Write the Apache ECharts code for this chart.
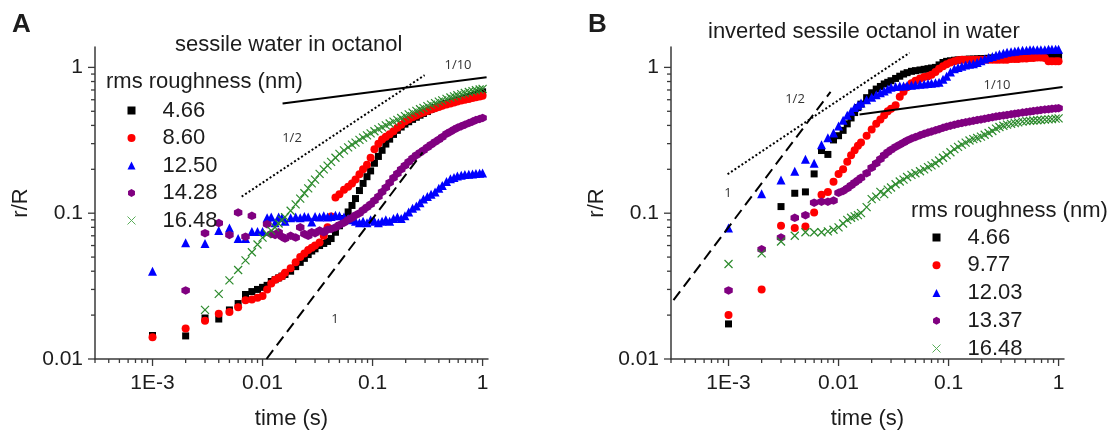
<!DOCTYPE html>
<html>
<head>
<meta charset="utf-8">
<script src="https://cdn.jsdelivr.net/npm/echarts/dist/echarts.min.js"></script>
<style>
html, body { margin: 0; padding: 0; background: #ffffff; }
#chart { width: 1114px; height: 435px; }
</style>
</head>
<body>
<div id="chart"></div>
<script>
// ---- time samples (s), shared by every curve ----
const timeGrid = [
  0.001, 0.002, 0.003, 0.004, 0.005, 0.006, 0.007, 0.008, 0.009, 0.010,
  0.011, 0.012, 0.013, 0.014, 0.015, 0.016, 0.018, 0.020, 0.022, 0.024,
  0.026, 0.028, 0.030, 0.033, 0.036, 0.039, 0.042, 0.046, 0.050, 0.055,
  0.060, 0.065, 0.070, 0.076, 0.082, 0.089, 0.096, 0.104, 0.113, 0.122,
  0.132, 0.143, 0.155, 0.168, 0.182, 0.197, 0.213, 0.231, 0.250, 0.270,
  0.290, 0.315, 0.340, 0.370, 0.400, 0.430, 0.470, 0.510, 0.550, 0.590,
  0.640, 0.690, 0.750, 0.810, 0.870, 0.940, 1.000
];

// ---- panel A: sessile water in octanol, r/R ----
const namesA = ['4.66', '8.60', '12.50', '14.28', '16.48'];
const a466 = [
  0.0145, 0.0144, 0.0191, 0.0188, 0.0217, 0.0240, 0.0277, 0.0290, 0.0300, 0.0310,
  0.032, 0.034, 0.035, 0.036, 0.037, 0.038, 0.040, 0.043, 0.046, 0.049,
  0.052, 0.055, 0.057, 0.060, 0.062, 0.064, 0.067, 0.074, 0.082, 0.092,
  0.102, 0.113, 0.126, 0.143, 0.160, 0.178, 0.195, 0.220, 0.245, 0.270,
  0.298, 0.322, 0.347, 0.370, 0.390, 0.408, 0.424, 0.440, 0.455, 0.470,
  0.483, 0.498, 0.515, 0.530, 0.543, 0.555, 0.567, 0.578, 0.588, 0.597,
  0.607, 0.618, 0.630, 0.642, 0.655, 0.668, 0.680
];
const a860 = [
  0.0141, 0.0162, 0.0183, 0.0204, 0.0210, 0.0226, 0.0253, 0.0256, 0.0263, 0.0270,
  0.030, 0.033, 0.035, 0.036, 0.037, 0.039, 0.042, 0.046, 0.050, 0.053,
  0.056, 0.058, 0.060, 0.063, 0.070, 0.080, 0.095, 0.128, 0.135, 0.145,
  0.152, 0.160, 0.170, 0.185, 0.200, 0.215, 0.240, 0.275, 0.300, 0.320,
  0.335, 0.348, 0.365, 0.385, 0.405, 0.425, 0.440, 0.455, 0.468, 0.480,
  0.490, 0.503, 0.515, 0.525, 0.535, 0.545, 0.556, 0.566, 0.575, 0.583,
  0.592, 0.600, 0.608, 0.616, 0.624, 0.632, 0.640
];
const a1250 = [
  0.040, 0.0628, 0.062, 0.076, 0.079, 0.067, 0.067, 0.075, 0.075, 0.075,
  0.093, 0.094, 0.086, 0.094, 0.093, 0.088, 0.093, 0.094, 0.093, 0.095,
  0.094, 0.087, 0.095, 0.094, 0.096, 0.094, 0.095, 0.097, 0.096, 0.094,
  0.092, 0.090, 0.088, 0.086, 0.088, 0.086, 0.090, 0.088, 0.086, 0.088,
  0.090, 0.088, 0.092, 0.094, 0.092, 0.096, 0.102, 0.108, 0.112, 0.118,
  0.125, 0.130, 0.135, 0.140, 0.148, 0.155, 0.165, 0.172, 0.176, 0.180,
  0.182, 0.184, 0.185, 0.186, 0.187, 0.188, 0.189
];
const a1428 = [
  null, 0.0295, 0.073, 0.0855, 0.071, 0.101, 0.069, 0.096, null, null,
  0.084, 0.072, 0.071, 0.074, 0.069, 0.067, 0.070, 0.068, 0.080, 0.072,
  0.070, 0.074, 0.073, 0.076, 0.074, 0.077, 0.078, 0.080, 0.083, 0.086,
  0.090, 0.093, 0.097, 0.100, 0.105, 0.110, 0.115, 0.122, 0.130, 0.140,
  0.150, 0.162, 0.175, 0.187, 0.200, 0.212, 0.225, 0.238, 0.250, 0.260,
  0.270, 0.283, 0.295, 0.308, 0.320, 0.333, 0.350, 0.362, 0.375, 0.385,
  0.395, 0.405, 0.415, 0.425, 0.435, 0.443, 0.450
];
const a1648 = [
  null, null, 0.0217, 0.028, 0.0346, 0.0408, 0.0475, 0.054, 0.061, 0.068,
  0.072, 0.076, 0.080, 0.085, 0.090, 0.094, 0.104, 0.115, 0.126, 0.137,
  0.148, 0.160, 0.170, 0.186, 0.200, 0.212, 0.225, 0.240, 0.255, 0.270,
  0.283, 0.295, 0.305, 0.318, 0.330, 0.342, 0.353, 0.365, 0.377, 0.388,
  0.400, 0.412, 0.425, 0.437, 0.450, 0.463, 0.476, 0.490, 0.503, 0.516,
  0.528, 0.542, 0.555, 0.569, 0.582, 0.594, 0.608, 0.622, 0.633, 0.644,
  0.656, 0.667, 0.678, 0.688, 0.697, 0.705, 0.712
];

// ---- panel B: inverted sessile octanol in water, r/R ----
const namesB = ['4.66', '9.77', '12.03', '13.37', '16.48'];
const b466 = [
  0.0174, null, 0.111, 0.137, 0.140, 0.186, 0.269, 0.253, 0.318, 0.340,
  0.370, 0.410, 0.450, 0.490, 0.530, 0.560, 0.620, 0.670, 0.710, 0.740,
  0.770, 0.790, 0.810, 0.840, 0.870, 0.900, 0.920, 0.940, 0.950, 0.960,
  0.970, 0.980, 0.990, 1.000, 1.040, 1.080, 1.100, 1.110, 1.120, 1.125,
  1.130, 1.135, 1.140, 1.140, 1.145, 1.150, 1.150, 1.155, 1.160, 1.160,
  1.165, 1.165, 1.170, 1.170, 1.175, 1.175, 1.180, 1.180, 1.185, 1.185,
  1.185, 1.190, 1.190, 1.195, 1.195, 1.200, 1.200
];
const b977 = [
  0.020, 0.030, 0.082, 0.079, 0.081, 0.101, 0.134, 0.140, 0.164, 0.186,
  0.200, 0.225, 0.250, 0.270, 0.290, 0.305, 0.340, 0.375, 0.410, 0.440,
  0.470, 0.500, 0.520, 0.550, 0.630, 0.680, 0.730, 0.780, 0.810, 0.840,
  0.860, 0.870, 0.890, 0.930, 0.980, 1.020, 1.050, 1.080, 1.100, 1.120,
  1.130, 1.130, 1.130, 1.130, 1.130, 1.130, 1.130, 1.130, 1.130, 1.130,
  1.130, 1.130, 1.130, 1.140, 1.140, 1.140, 1.150, 1.150, 1.160, 1.160,
  1.170, 1.170, 1.160, 1.100, 1.100, 1.100, 1.100
];
const b1203 = [
  0.079, 0.136, 0.169, 0.194, 0.234, 0.220, 0.295, 0.329, 0.355, 0.396,
  0.434, 0.470, 0.500, 0.530, 0.550, 0.570, 0.600, 0.625, 0.650, 0.670,
  0.690, 0.710, 0.730, 0.740, 0.745, 0.745, 0.750, 0.755, 0.760, 0.765,
  0.770, 0.775, 0.780, 0.785, 0.790, 0.830, 0.870, 0.930, 0.980, 1.000,
  1.020, 1.040, 1.050, 1.060, 1.080, 1.110, 1.140, 1.170, 1.190, 1.210,
  1.230, 1.250, 1.270, 1.280, 1.290, 1.300, 1.310, 1.310, 1.320, 1.320,
  1.320, 1.320, 1.320, 1.330, 1.330, 1.330, 1.330
];
const b1337 = [
  0.0295, 0.0565, 0.068, 0.093, 0.097, 0.118, 0.120, 0.120, 0.122, 0.138,
  0.142, 0.148, 0.155, 0.162, 0.168, 0.175, 0.188, 0.205, 0.220, 0.235,
  0.250, 0.262, 0.272, 0.285, 0.295, 0.305, 0.315, 0.325, 0.333, 0.342,
  0.350, 0.357, 0.363, 0.370, 0.377, 0.385, 0.392, 0.398, 0.405, 0.410,
  0.415, 0.420, 0.425, 0.430, 0.435, 0.440, 0.445, 0.450, 0.455, 0.460,
  0.464, 0.468, 0.472, 0.477, 0.481, 0.485, 0.490, 0.494, 0.498, 0.502,
  0.506, 0.510, 0.514, 0.517, 0.520, 0.523, 0.525
];
const b1648 = [
  0.0448, 0.053, 0.064, 0.070, 0.074, 0.074, 0.074, 0.075, 0.077, 0.080,
  0.085, 0.090, 0.093, 0.095, 0.097, 0.100, 0.110, 0.125, 0.130, 0.140,
  0.135, 0.145, 0.150, 0.158, 0.165, 0.170, 0.177, 0.183, 0.188, 0.194,
  0.200, 0.207, 0.213, 0.220, 0.230, 0.240, 0.250, 0.262, 0.275, 0.285,
  0.295, 0.305, 0.315, 0.322, 0.328, 0.335, 0.345, 0.355, 0.366, 0.380,
  0.390, 0.398, 0.405, 0.410, 0.415, 0.420, 0.425, 0.428, 0.430, 0.432,
  0.434, 0.436, 0.438, 0.440, 0.442, 0.445, 0.447
];

// ---- power-law guide lines: [t, r] end points ----
const guideA10 = [[0.0152, 0.565], [1.087, 0.857]];   // slope 1/10
const guideA2  = [[0.00646, 0.130], [0.297, 0.884]];  // slope 1/2
const guideA1  = [[0.01086, 0.0100], [0.285, 0.261]]; // slope 1
const guideB10 = [[0.0155, 0.476], [1.087, 0.734]];
const guideB2  = [[0.00098, 0.185], [0.0442, 1.26]];
const guideB1  = [[0.000316, 0.0253], [0.00846, 0.68]];

// ---- axes ----
const xRange = [3e-4, 1.12];
const yRange = [0.01, 1.38];
const xMajorTicks = [0.001, 0.01, 0.1, 1];
const xTickLabels = ['1E-3', '0.01', '0.1', '1'];
const yMajorTicks = [0.01, 0.1, 1];
const yTickLabels = ['0.01', '0.1', '1'];
const xMinorTicks = [
  3e-4, 4e-4, 5e-4, 6e-4, 7e-4, 8e-4, 9e-4,
  0.002, 0.003, 0.004, 0.005, 0.006, 0.007, 0.008, 0.009,
  0.02, 0.03, 0.04, 0.05, 0.06, 0.07, 0.08, 0.09,
  0.2, 0.3, 0.4, 0.5, 0.6, 0.7, 0.8, 0.9
];
const yMinorTicks = [
  0.02, 0.03, 0.04, 0.05, 0.06, 0.07, 0.08, 0.09,
  0.2, 0.3, 0.4, 0.5, 0.6, 0.7, 0.8, 0.9
];

const FONT = '"Liberation Sans", Arial, sans-serif';
const SMALL = '"Open Sans", "DejaVu Sans", sans-serif';
const AXIS_COLOR = '#3a3a3a';
const TEXT_COLOR = '#1c1c1c';
const HEX = 'path://M5,0 L9.33,2.5 L9.33,7.5 L5,10 L0.67,7.5 L0.67,2.5 Z';
const CROSS = 'path://M0,0 L10,10 M10,0 L0,10';
const GREEN = '#2c8a2c';
const GREEN_KEY = '#5aae5a';

const markerStyles = [
  { symbol: 'rect', symbolSize: 7, itemStyle: { color: '#000000', opacity: 1 } },
  { symbol: 'circle', symbolSize: 8, itemStyle: { color: '#ff0000', opacity: 1 } },
  { symbol: 'triangle', symbolSize: 9, itemStyle: { color: '#0000ff', opacity: 1 } },
  { symbol: HEX, symbolSize: 8.5, itemStyle: { color: '#800080', opacity: 1 } },
  { symbol: CROSS, symbolSize: 8, itemStyle: { color: 'rgba(0,0,0,0)', borderColor: GREEN, borderWidth: 1.2, opacity: 1 } }
];

function pairs(values) {
  const out = [];
  timeGrid.forEach((t, i) => { if (values[i] != null) out.push([t, values[i]]); });
  return out;
}

function labelFor(ticks, labels) {
  return function (v) {
    for (let i = 0; i < ticks.length; i++) {
      if (Math.abs(Math.log10(v) - Math.log10(ticks[i])) < 1e-6) return labels[i];
    }
    return '';
  };
}

function makeAxes(gridIndex) {
  const x = {
    type: 'log', logBase: 10, gridIndex: gridIndex,
    min: xRange[0], max: xRange[1],
    name: 'time (s)', nameLocation: 'middle', nameGap: 49,
    nameTextStyle: { fontFamily: FONT, fontSize: 22, color: TEXT_COLOR },
    axisLine: { onZero: false, lineStyle: { color: AXIS_COLOR, width: 1.5 } },
    axisTick: { show: false }, minorTick: { show: false },
    splitLine: { show: false },
    axisLabel: { interval: 0, margin: 14, fontFamily: FONT, fontSize: 21, color: TEXT_COLOR,
                 formatter: labelFor(xMajorTicks, xTickLabels) }
  };
  const y = {
    type: 'log', logBase: 10, gridIndex: gridIndex,
    min: yRange[0], max: yRange[1],
    name: 'r/R', nameLocation: 'middle', nameGap: 63,
    nameTextStyle: { fontFamily: FONT, fontSize: 22, color: TEXT_COLOR },
    axisLine: { onZero: false, lineStyle: { color: AXIS_COLOR, width: 1.5 } },
    axisTick: { show: false }, minorTick: { show: false },
    splitLine: { show: false },
    axisLabel: { interval: 0, margin: 12, fontFamily: FONT, fontSize: 21, color: TEXT_COLOR,
                 formatter: labelFor(yMajorTicks, yTickLabels) }
  };
  return [x, y];
}

function scatterSeries(gridIndex, names, valueSets) {
  return valueSets.map((vals, k) => Object.assign({
    type: 'scatter', name: names[k],
    xAxisIndex: gridIndex, yAxisIndex: gridIndex,
    data: pairs(vals), z: 2 + k * 0.1
  }, markerStyles[k]));
}

function guideSeries(gridIndex, data, type) {
  const ls = { color: '#000000', width: 2, type: 'solid' };
  if (type === 'dashed') { ls.type = [11, 6]; }
  if (type === 'dotted') { ls.type = [2, 2.2]; }
  return {
    type: 'line', xAxisIndex: gridIndex, yAxisIndex: gridIndex,
    data: data, showSymbol: false, symbol: 'none', silent: true, z: 4,
    lineStyle: ls
  };
}

function legendData(names) {
  return names.map((n, k) => {
    const st = markerStyles[k];
    const style = Object.assign({}, st.itemStyle);
    if (k === 4) { style.borderColor = GREEN_KEY; style.borderWidth = 1; }
    return { name: n, icon: st.symbol, itemStyle: style };
  });
}

function legendBox(left, top, gap, names) {
  return {
    orient: 'vertical', left: left, top: top, padding: 0,
    itemWidth: 8, itemHeight: 8, itemGap: gap, selectedMode: false,
    textStyle: { fontFamily: FONT, fontSize: 22, color: TEXT_COLOR, lineHeight: 22,
                 padding: [0, 0, 0, 22] },
    data: legendData(names)
  };
}

const axesA = makeAxes(0);
const axesB = makeAxes(1);

function text(x, y, str, font, align, color) {
  return {
    type: 'text', x: x, y: y, silent: true,
    style: { text: str, font: font, fill: color || TEXT_COLOR,
             textAlign: align || 'left', textVerticalAlign: 'middle' }
  };
}

const labels = [
  text(12, 25, 'A', 'bold 26px ' + FONT),
  text(588, 25, 'B', 'bold 26px ' + FONT),
  text(175, 45, 'sessile water in octanol', '22px ' + FONT),
  text(708, 32, 'inverted sessile octanol in water', '22px ' + FONT),
  text(106, 82, 'rms roughness (nm)', '22px ' + FONT),
  text(911, 211, 'rms roughness (nm)', '22px ' + FONT),
  text(458, 65, '1/10', '13px ' + SMALL, 'center', '#333333'),
  text(292, 138, '1/2', '13px ' + SMALL, 'center', '#333333'),
  text(335, 319, '1', '13px ' + SMALL, 'center', '#333333'),
  text(997, 85, '1/10', '13px ' + SMALL, 'center', '#333333'),
  text(795, 99, '1/2', '13px ' + SMALL, 'center', '#333333'),
  text(728, 193, '1', '13px ' + SMALL, 'center', '#333333')
];

const option = {
  animation: false,
  backgroundColor: '#ffffff',
  grid: [
    { left: 95, top: 47, width: 393, height: 319 },
    { left: 671, top: 47, width: 393, height: 319 }
  ],
  xAxis: [axesA[0], axesB[0]],
  yAxis: [axesA[1], axesB[1]],
  legend: [
    legendBox(127, 99.5, 5.5, namesA),
    legendBox(932, 226.5, 5.75, namesB)
  ],
  graphic: labels,
  series: [].concat(
    scatterSeries(0, namesA, [a466, a860, a1250, a1428, a1648]),
    scatterSeries(1, namesB, [b466, b977, b1203, b1337, b1648]),
    [
      guideSeries(0, guideA10, 'solid'),
      guideSeries(0, guideA2, 'dotted'),
      guideSeries(0, guideA1, 'dashed'),
      guideSeries(1, guideB10, 'solid'),
      guideSeries(1, guideB2, 'dotted'),
      guideSeries(1, guideB1, 'dashed')
    ]
  )
};

const chart = echarts.init(document.getElementById('chart'), null, { renderer: 'canvas' });
chart.setOption(option);

// outward tick marks at decades and log-spaced minor positions, placed through the axis scales
const ticks = [];
[0, 1].forEach(function (g) {
  xMajorTicks.concat(xMinorTicks).forEach(function (v) {
    const p = chart.convertToPixel({ gridIndex: g }, [v, yRange[0]]);
    const len = xMajorTicks.indexOf(v) >= 0 ? 7 : 4;
    ticks.push({ type: 'line', silent: true, z: 10,
      shape: { x1: p[0], y1: p[1], x2: p[0], y2: p[1] + len },
      style: { stroke: AXIS_COLOR, lineWidth: 1.3 } });
  });
  yMajorTicks.concat(yMinorTicks).forEach(function (v) {
    const p = chart.convertToPixel({ gridIndex: g }, [xRange[0], v]);
    const len = yMajorTicks.indexOf(v) >= 0 ? 7 : 4;
    ticks.push({ type: 'line', silent: true, z: 10,
      shape: { x1: p[0], y1: p[1], x2: p[0] - len, y2: p[1] },
      style: { stroke: AXIS_COLOR, lineWidth: 1.3 } });
  });
});
chart.setOption({ graphic: labels.concat(ticks) }, { replaceMerge: ['graphic'] });
</script>
</body>
</html>
